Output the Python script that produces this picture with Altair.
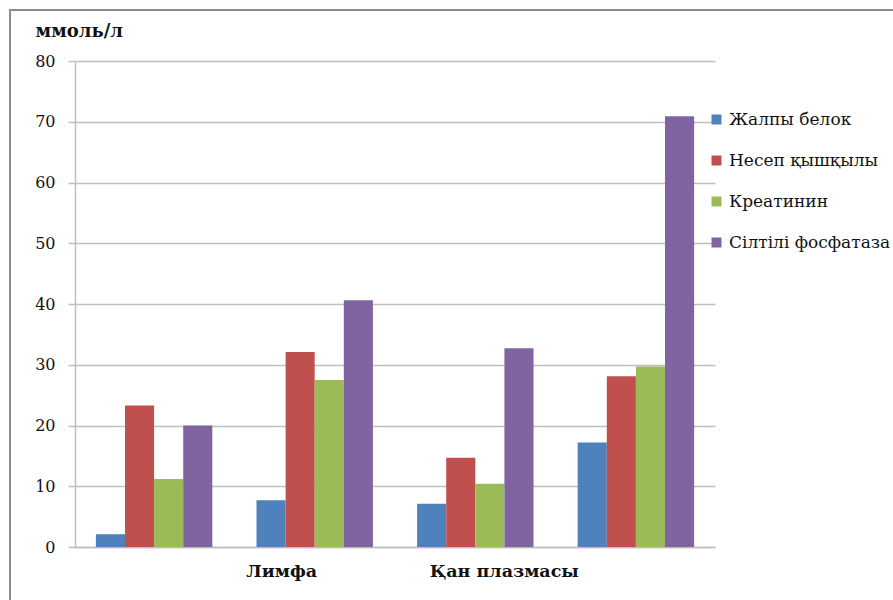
import altair as alt
import pandas as pd

# Category groups (four clusters of bars) and the measured indicators
groups = ["1", "2", "3", "4"]
series = ["Жалпы белок", "Несеп қышқылы", "Креатинин", "Сілтілі фосфатаза"]
colors = ["#4F81BD", "#C0504D", "#9BBB59", "#8064A2"]

zhalpy_belok = [2.1, 7.7, 7.1, 17.2]
nesep_kyshkyly = [23.3, 32.1, 14.7, 28.1]
kreatinin = [11.2, 27.5, 10.4, 29.7]
siltili_fosfataza = [20.0, 40.6, 32.7, 70.9]

group_labels = ["Лимфа", "Қан плазмасы"]
label_groups = ["2", "3"]
y_ticks = [0, 10, 20, 30, 40, 50, 60, 70, 80]

rows = []
for name, vals in zip(series, [zhalpy_belok, nesep_kyshkyly, kreatinin, siltili_fosfataza]):
    for g, v in zip(groups, vals):
        rows.append({"group": g, "series": name, "value": v})
df = pd.DataFrame(rows)
labels_df = pd.DataFrame({"group": label_groups, "label": group_labels})

W, H = 640, 486
FONT = "DejaVu Serif"
GRID = "#bfbfbf"
TEXT = "#111111"

x_enc = alt.X(
    "group:N",
    sort=groups,
    scale=alt.Scale(domain=groups, paddingInner=0.275, paddingOuter=0.13),
    axis=alt.Axis(labels=False, ticks=False, title=None, grid=False,
                  domainColor=GRID, domainWidth=1.5),
)

bars = alt.Chart(df).mark_bar(strokeWidth=0).encode(
    x=x_enc,
    xOffset=alt.XOffset("series:N", sort=series,
                        scale=alt.Scale(domain=series, paddingInner=0, paddingOuter=0)),
    y=alt.Y(
        "value:Q",
        scale=alt.Scale(domain=[0, 80], nice=False),
        axis=alt.Axis(
            values=y_ticks,
            title="ммоль/л",
            titleAngle=0,
            titleX=-40,
            titleY=-25,
            titleAlign="left",
            titleBaseline="alphabetic",
            titleFont=FONT,
            titleFontSize=18,
            titleFontWeight="bold",
            titleColor=TEXT,
            labelFont=FONT,
            labelFontSize=16,
            labelColor=TEXT,
            labelPadding=13,
            tickSize=7,
            tickColor=GRID,
            tickWidth=1.5,
            domainColor=GRID,
            domainWidth=1.5,
            gridColor=GRID,
            gridWidth=1.5,
        ),
    ),
    color=alt.Color(
        "series:N",
        sort=series,
        scale=alt.Scale(domain=series, range=colors),
        legend=alt.Legend(
            title=None,
            orient="none",
            legendX=633,
            legendY=50,
            symbolType="square",
            symbolSize=100,
            symbolStrokeWidth=0,
            labelFont=FONT,
            labelFontSize=17,
            labelColor=TEXT,
            labelOffset=4,
            rowPadding=23,
            labelLimit=300,
        ),
    ),
)

# Group captions under the category axis
def caption(name, shift):
    return alt.Chart(labels_df).transform_filter(
        alt.datum.label == name
    ).mark_text(
        font=FONT, fontSize=17.5, fontWeight="bold", color=TEXT,
        baseline="alphabetic", align="center", dx=shift,
    ).encode(
        x=alt.X("group:N", sort=groups),
        y=alt.value(H + 30),
        text="label:N",
    )

cap1 = caption("Лимфа", -33)
cap2 = caption("Қан плазмасы", 29)

# Outer chart frame
frame = alt.Chart(pd.DataFrame({"a": [0]})).mark_rect(
    fillOpacity=0, stroke="#8c8c8c", strokeWidth=2
).encode(
    x=alt.value(-65), x2=alt.value(830), y=alt.value(-51), y2=alt.value(560)
)

chart = alt.layer(frame, bars, cap1, cap2).properties(
    width=W,
    height=H,
    autosize=alt.AutoSizeParams(type="none"),
    padding={"left": 75, "top": 61, "right": 178, "bottom": 53},
    background="white",
).configure_view(stroke=None)

chart.save("out.html", embed_options={"renderer": "svg", "actions": False})
